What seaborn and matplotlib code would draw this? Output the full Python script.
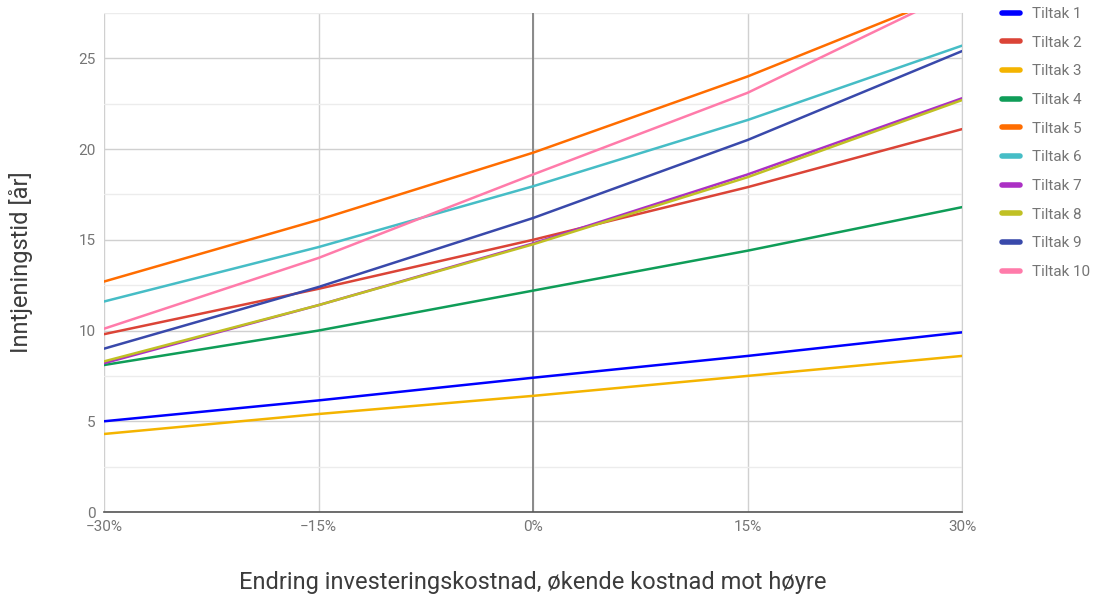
import matplotlib
matplotlib.use("Agg")
import matplotlib.pyplot as plt
from matplotlib.ticker import MultipleLocator, FuncFormatter
import seaborn as sns
import pandas as pd

# Change in investment cost (%) along the x axis
endring = [-30, -15, 0, 15, 30]

tiltak_1 = [5.0, 6.15, 7.4, 8.6, 9.9]
tiltak_2 = [9.8, 12.3, 15.0, 17.9, 21.1]
tiltak_3 = [4.3, 5.4, 6.4, 7.5, 8.6]
tiltak_4 = [8.1, 10.0, 12.2, 14.4, 16.8]
tiltak_5 = [12.7, 16.1, 19.8, 24.0, 28.75]
tiltak_6 = [11.6, 14.6, 17.95, 21.6, 25.7]
tiltak_7 = [8.2, 11.4, 14.8, 18.6, 22.8]
tiltak_8 = [8.3, 11.4, 14.75, 18.45, 22.7]
tiltak_9 = [9.0, 12.4, 16.2, 20.5, 25.4]
tiltak_10 = [10.1, 14.0, 18.6, 23.1, 28.8]

navn = [f"Tiltak {i}" for i in range(1, 11)]
serier = [tiltak_1, tiltak_2, tiltak_3, tiltak_4, tiltak_5,
          tiltak_6, tiltak_7, tiltak_8, tiltak_9, tiltak_10]
farger = ["#0000ff", "#db4437", "#f4b400", "#0f9d58", "#ff6d00",
          "#46bdc6", "#ab30c4", "#c0c024", "#3949ab", "#ff7baa"]

rows = []
for n, s in zip(navn, serier):
    for x, y in zip(endring, s):
        rows.append({"endring": x, "tid": y, "tiltak": n})
df = pd.DataFrame(rows)

sns.set_style("white")
plt.rcParams["font.family"] = ["Roboto", "DejaVu Sans"]

fig = plt.figure(figsize=(10.94, 6.01), dpi=100)
ax = fig.add_axes([104 / 1094, 1 - 512 / 601, (962 - 104) / 1094, (512 - 13) / 601])

sns.lineplot(data=df, x="endring", y="tid", hue="tiltak", hue_order=navn,
             palette=dict(zip(navn, farger)), linewidth=1.8, ax=ax,
             legend=False, zorder=3)

ax.set_xlim(-30, 30)
ax.set_ylim(0, 27.5)
ax.xaxis.set_major_locator(MultipleLocator(15))
ax.yaxis.set_major_locator(MultipleLocator(5))
ax.yaxis.set_minor_locator(MultipleLocator(2.5))
ax.xaxis.set_major_formatter(FuncFormatter(lambda v, p: f"{int(v)}%".replace("-", "\u2212")))

ax.grid(True, which="major", axis="both", color="#d0d0d0", linewidth=1.0, zorder=0)
ax.grid(True, which="minor", axis="y", color="#ececec", linewidth=1.0, zorder=0)
ax.axvline(0, color="#8a8a8a", linewidth=1.4, zorder=1)

for side in ["top", "left"]:
    ax.spines[side].set_visible(False)
ax.spines["right"].set_color("#d0d0d0")
ax.spines["bottom"].set_color("#555555")
ax.spines["bottom"].set_linewidth(1.2)

ax.tick_params(axis="both", which="both", length=0, labelsize=11,
               labelcolor="#757575", pad=6)

ax.set_xlabel("Endring investeringskostnad, økende kostnad mot høyre",
              fontsize=17, color="#3c3c3c")
ax.set_ylabel("Inntjeningstid [år]", fontsize=17, color="#3c3c3c")
ax.xaxis.set_label_coords(0.5, -(582 - 512) / (512 - 13), transform=ax.transAxes)
ax.yaxis.set_label_coords(-(104 - 21) / (962 - 104), 0.5, transform=ax.transAxes)
ax.xaxis.label.set_va("center")
ax.yaxis.label.set_va("center")

handles = [plt.Line2D([0], [0], color=c, linewidth=4) for c in farger]
fig.legend(handles, navn, loc="upper left", bbox_to_anchor=(996 / 1094, 1 - 1 / 601),
           frameon=False, fontsize=11, labelcolor="#757575", handlelength=1.2,
           handletextpad=0.75, labelspacing=0.96, borderaxespad=0)

fig.savefig("out.png", dpi=100)
